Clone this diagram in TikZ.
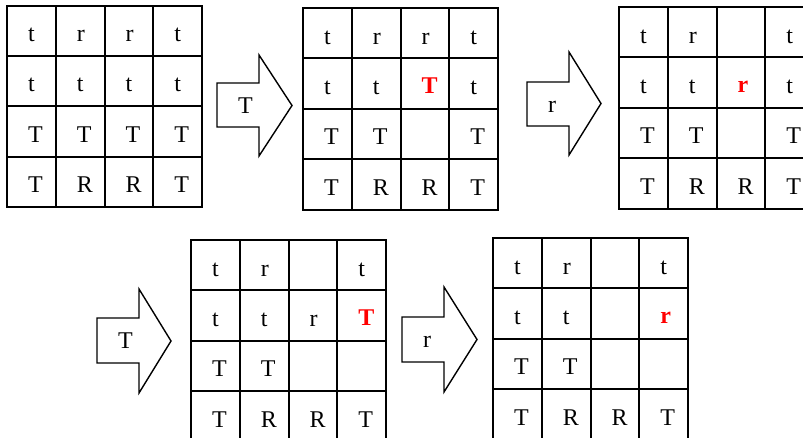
\documentclass[tikz,border=0pt]{standalone}
\usepackage{fontspec}
\setmainfont{Liberation Serif}
\tikzset{
  gridline/.style={line width=2pt},
  lbl/.style={anchor=base west, inner sep=0pt, outer sep=0pt, font=\fontsize{24}{26}\selectfont},
  hl/.style={lbl, text=red, font=\fontsize{24}{26}\selectfont\bfseries},
  bigarrow/.style={line width=1.4pt, line join=miter, fill=white}
}
\newcommand\mygrid[2]{%
  \foreach \i in {0,...,3}{\foreach \j in {0,...,3}{%
    \draw[gridline] ({#1+\i*48.75},{#2+\j*50.4}) rectangle ++(48.75,50.4);}}}
\newcommand\myletters[4]{% name, x, y, list col/row/text
  \foreach \c/\r/\t in {#4}{%
    \node[lbl] (#1-\r\c) at ({#2+(\c-1)*48.75+21},{#3+(\r-1)*50.4+36}) {\t};}}
\newcommand\myarrow[8]{% name, left, shafttop, shaftbottom, neck, headtop, headbottom, tip
  \draw[bigarrow] (#2,#3) -- (#5,#3) -- (#5,#6) -- (#8,{(#6+#7)/2}) -- (#5,#7) -- (#5,#4) -- (#2,#4) -- cycle;
  \coordinate (#1) at (#2,{(#3+#4)/2});}
\begin{document}
\begin{tikzpicture}[x=1pt,y=-1pt]
\useasboundingbox (0,0) rectangle (803,437);
\clip (0,0) rectangle (803,437);
% grid 1
\mygrid{7}{5.5}
\myletters{g1}{7}{5.5}{1/1/t,2/1/r,3/1/r,4/1/t,1/2/t,2/2/t,3/2/t,4/2/t,1/3/T,2/3/T,3/3/T,4/3/T,1/4/T,2/4/R,3/4/R,4/4/T}
% arrow 1
\myarrow{a1}{217}{83}{127}{259}{55}{156}{292}
\node[lbl] (a1l) at (238,113) {T};
% grid 2
\mygrid{303}{8}
\myletters{g2}{303}{8}{1/1/t,2/1/r,3/1/r,4/1/t,1/2/t,2/2/t,4/2/t,1/3/T,2/3/T,4/3/T,1/4/T,2/4/R,3/4/R,4/4/T}
\node[hl] (g2-23) at ({303+2*48.75+21},{8+50.4+35}) {T};
% arrow 2
\myarrow{a2}{527}{82}{126}{569}{52}{155}{601}
\node[lbl] (a2l) at (548,112) {r};
% grid 3
\mygrid{619}{7}
\myletters{g3}{619}{7}{1/1/t,2/1/r,4/1/t,1/2/t,2/2/t,4/2/t,1/3/T,2/3/T,4/3/T,1/4/T,2/4/R,3/4/R,4/4/T}
\node[hl] (g3-23) at ({619+2*48.75+21},{7+50.4+35}) {r};
% arrow 3
\myarrow{a3}{97}{318}{363}{139}{289}{393}{171}
\node[lbl] (a3l) at (118,348) {T};
% grid 4
\mygrid{191}{240}
\myletters{g4}{191}{240}{1/1/t,2/1/r,4/1/t,1/2/t,2/2/t,3/2/r,1/3/T,2/3/T,1/4/T,2/4/R,3/4/R,4/4/T}
\node[hl] (g4-24) at ({191+3*48.75+21},{240+50.4+35}) {T};
% arrow 4
\myarrow{a4}{402}{317}{362}{444}{287}{392}{477}
\node[lbl] (a4l) at (423,347) {r};
% grid 5
\mygrid{493}{238}
\myletters{g5}{493}{238}{1/1/t,2/1/r,4/1/t,1/2/t,2/2/t,1/3/T,2/3/T,1/4/T,2/4/R,3/4/R,4/4/T}
\node[hl] (g5-24) at ({493+3*48.75+21},{238+50.4+35}) {r};
\end{tikzpicture}
\end{document}
